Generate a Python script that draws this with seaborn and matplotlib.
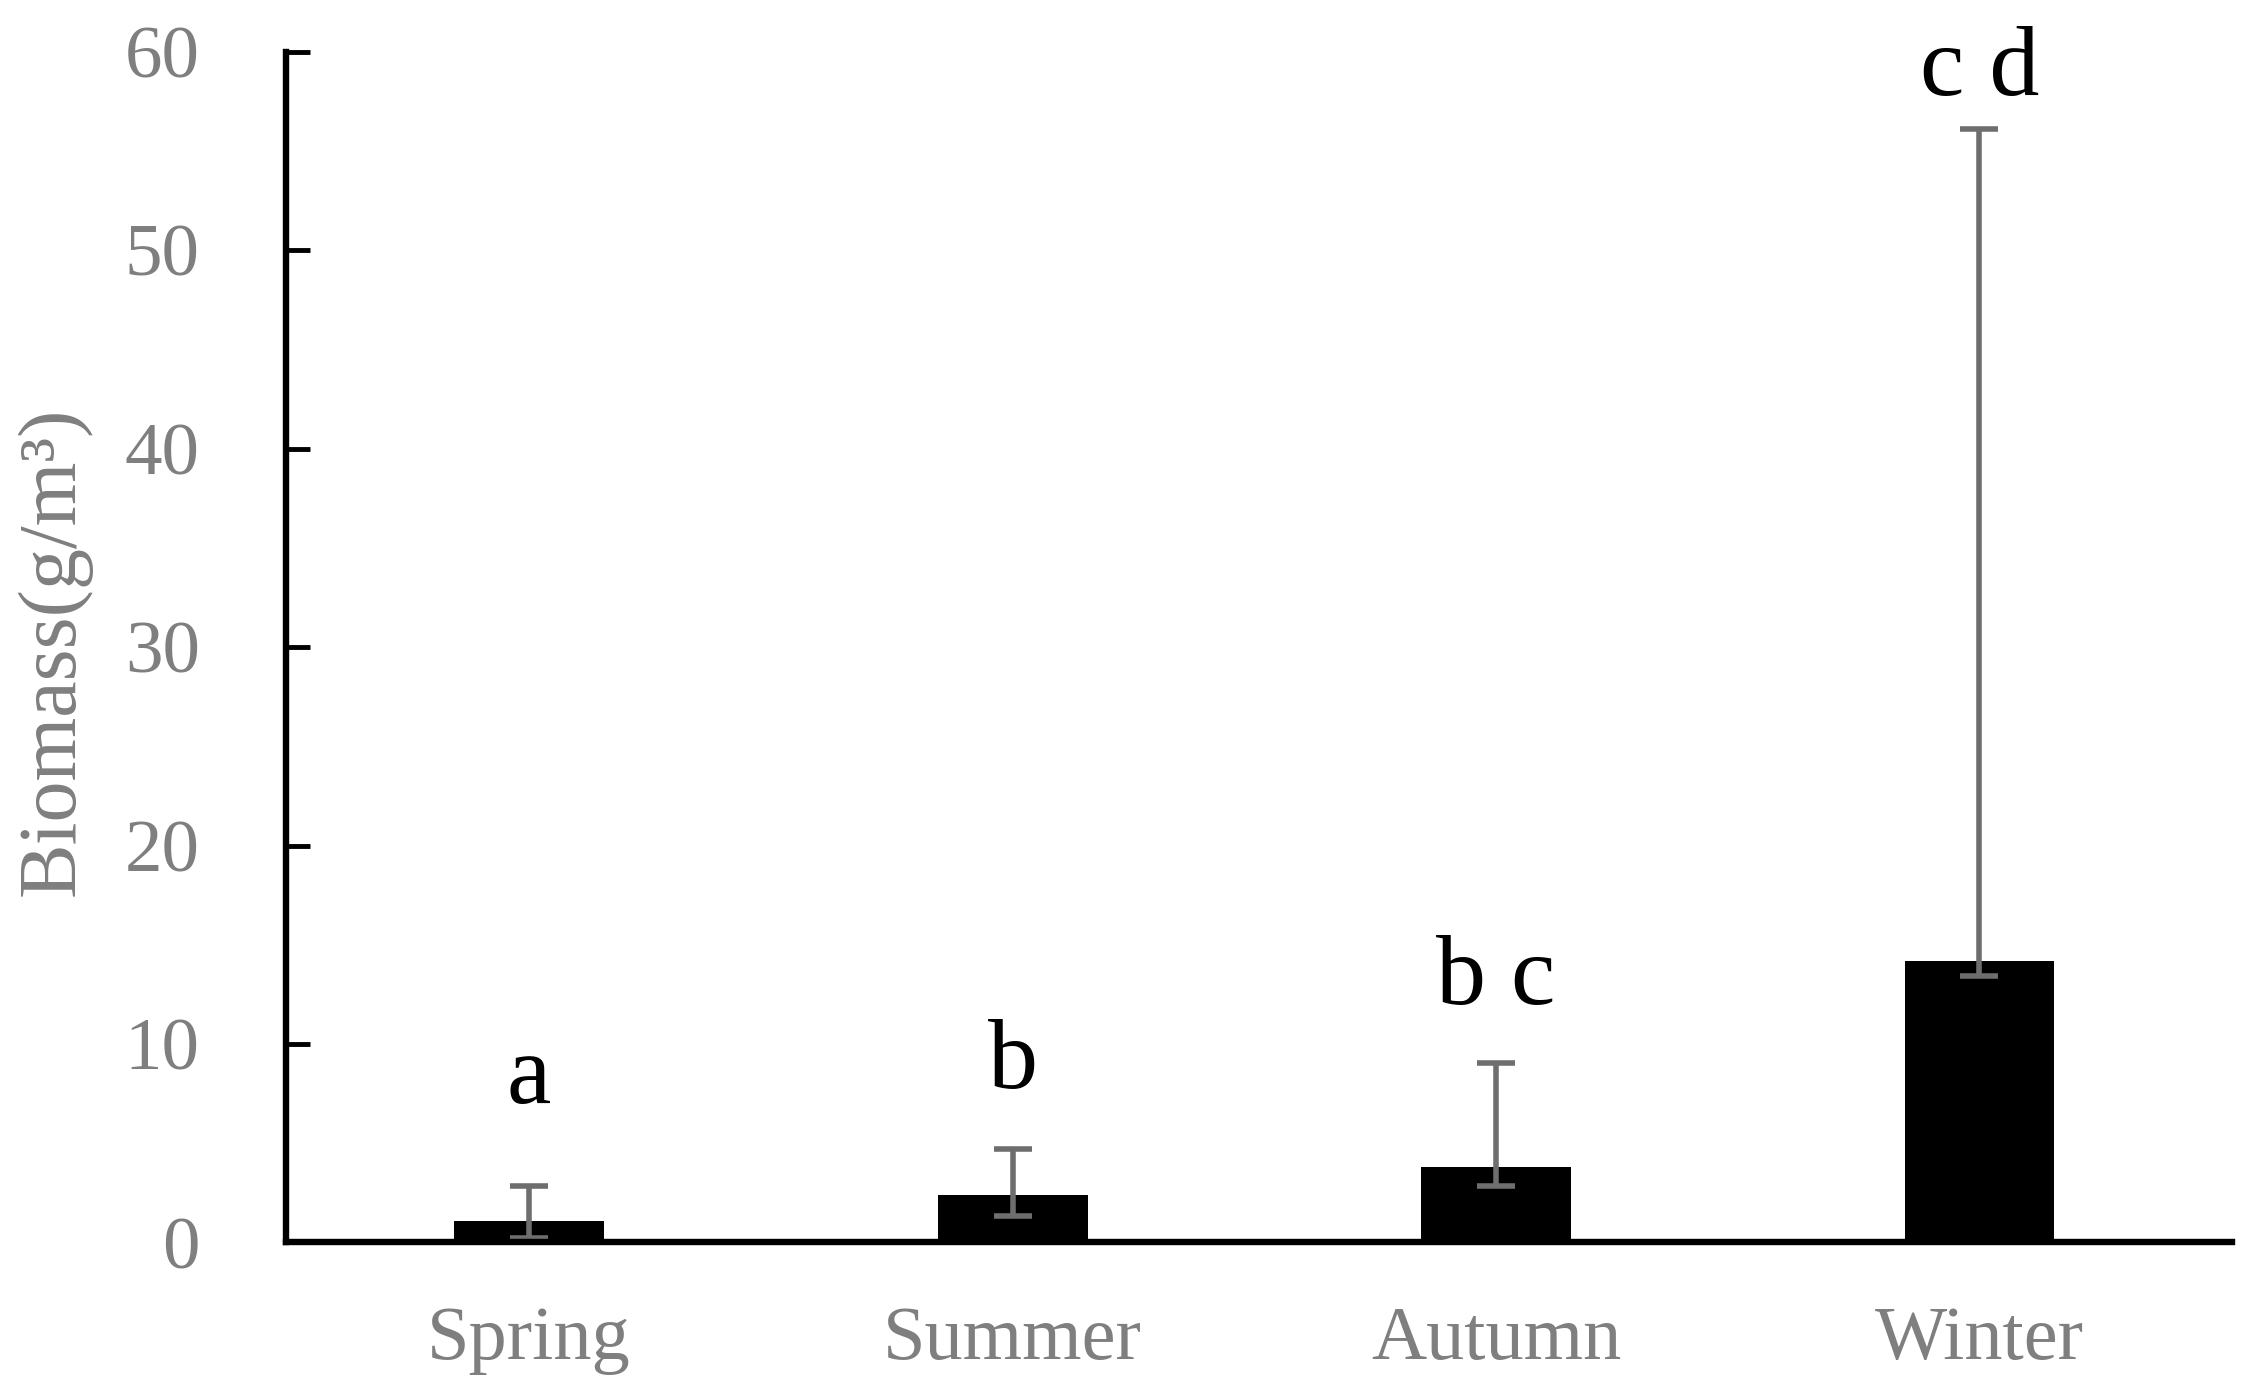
import numpy as np
import pandas as pd
import matplotlib
matplotlib.use("Agg")
import matplotlib.pyplot as plt
import seaborn as sns

# ---- data ----
seasons = ["Spring", "Summer", "Autumn", "Winter"]
biomass = [1.1, 2.4, 3.8, 14.2]
err_low = [0.25, 1.35, 2.85, 13.45]   # lower cap value
err_high = [2.87, 4.72, 9.05, 56.1]   # upper cap value
letters = ["a", "b", "b c", "c d"]
letter_y = [7.05, 7.8, 12.0, 57.8]
yticks = [0, 10, 20, 30, 40, 50, 60]

sns.set_style("white")
plt.rcParams["font.family"] = ["Liberation Serif", "DejaVu Serif"]

fig = plt.figure(figsize=(22.43, 13.92), dpi=100)
ax = fig.add_axes([0.1275, 0.1074, 0.995 - 0.1275, 0.963 - 0.1074])

df = pd.DataFrame({"season": seasons, "biomass": biomass})
sns.barplot(data=df, x="season", y="biomass", color="black", saturation=1,
            width=0.31, errorbar=None, ax=ax, zorder=2)
for p in ax.patches:
    p.set_edgecolor("none")

xpos = np.arange(len(seasons))
b = np.array(biomass)
lo = b - np.array(err_low)
hi = np.array(err_high) - b
ax.errorbar(xpos, b, yerr=[lo, hi], fmt="none", ecolor="#6e6e6e",
            elinewidth=4, capsize=14, capthick=4, zorder=3)

for x, t, y in zip(xpos, letters, letter_y):
    ax.text(x, y, t, ha="center", va="baseline", fontsize=72, color="black")

ax.set_xlim(-0.503, 3.522)
ax.set_ylim(0, 60)
ax.set_yticks(yticks)
ax.set_yticklabels([str(v) for v in yticks])
ax.set_xlabel("")
ax.set_ylabel("")

for s in ["top", "right"]:
    ax.spines[s].set_visible(False)
for s in ["left", "bottom"]:
    ax.spines[s].set_color("black")
    ax.spines[s].set_linewidth(4.6)
    ax.spines[s].set_zorder(4)

ax.tick_params(axis="y", direction="in", length=17, width=3.5, color="black",
               labelsize=54, labelcolor="#7f7f7f", pad=62, left=True)
ax.tick_params(axis="x", length=0, labelsize=55, labelcolor="#7f7f7f", pad=46)
ax.grid(False)

fig.text(0.024, 0.532, "Biomass(g/m³)", rotation=90, ha="center", va="center",
         fontsize=59, color="#7f7f7f")

fig.savefig("out.png", dpi=100, facecolor="white")
